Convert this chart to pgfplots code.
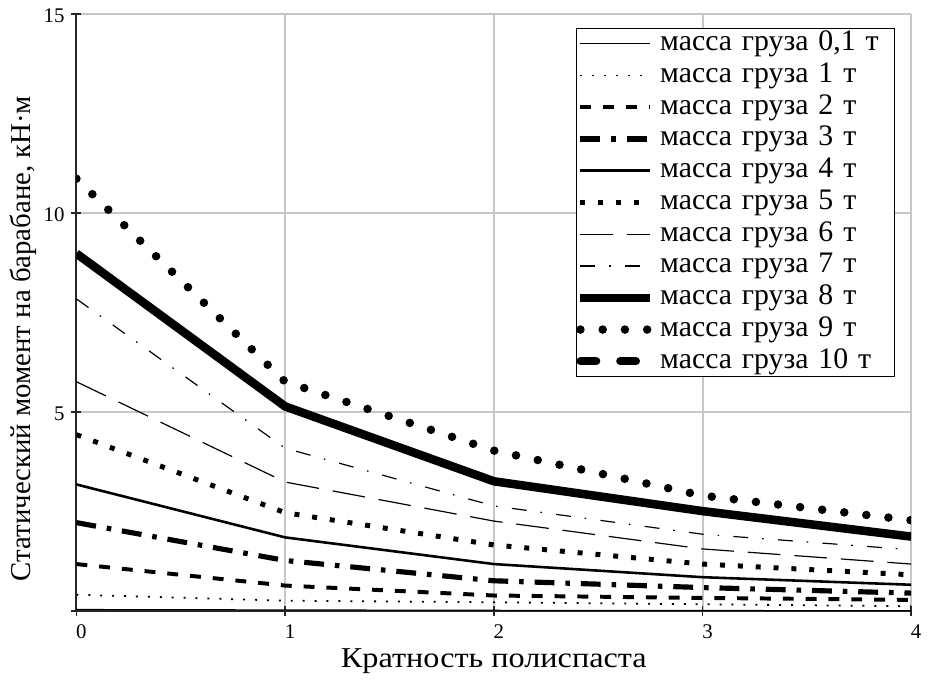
\documentclass[border=0pt]{standalone}
\usepackage{fontspec}
\setmainfont{Liberation Serif}
\usepackage{pgfplots}
\usepackage{pgfplotstable}
\pgfplotsset{compat=1.18}
\pgfplotstableread{
x   m01    m1    m2    m3    m4    m5    m6    m7    m8    m9
0   0.04   0.41  1.18  2.22  3.18  4.43  5.76  7.84  8.98  10.86
1   0.03   0.26  0.64  1.27  1.85  2.47  3.24  4.09  5.14  5.76
2   0.02   0.22  0.39  0.76  1.18  1.66  2.26  2.64  3.26  4.03
3   0.015  0.17  0.33  0.59  0.85  1.18  1.56  1.93  2.51  2.90
4   0.01   0.12  0.28  0.45  0.66  0.91  1.18  1.54  1.87  2.28
}\datatable
\begin{document}
\begin{tikzpicture}
\def\fs{\fontsize{14.5}{17}\selectfont}
\def\fl{\fontsize{15}{17}\selectfont}
\def\ft{\fontsize{10.5}{12}\selectfont}
\begin{axis}[
  scale only axis, width=420.5pt, height=300.8pt,
  xmin=0, xmax=4, ymin=0, ymax=15,
  xtick={0,1,2,3,4}, ytick={0,5,10,15},
  yticklabels={,5,10,15},
  grid=major, major grid style={line width=1pt, color=black!22},
  axis x line=bottom, axis y line=left,
  axis line style={line width=1pt, color=black!85, -},
  tick align=center, major tick length=5pt,
  tick style={line width=0.8pt, black!85},
  /pgf/number format/assume math mode=true,
  every tick label/.append style={font=\ft},
  xticklabel style={xshift=2.5pt, yshift=-1pt},
  yticklabel style={yshift=-1pt},
  xlabel={\scalebox{1.12}[1]{Кратность полиспаста}},
  ylabel={Статический момент на барабане, кН·м},
  label style={font=\fs},
  xlabel style={at={(axis description cs:0.5,-0.0948)}, anchor=base},
  ylabel style={at={(axis description cs:-0.064,0.4565)}, anchor=center},
  legend cell align=left,
  legend image code/.code={\draw[#1] (0pt,0pt) -- (35pt,0pt);},
  legend style={at={(axis description cs:0.9806,0.976)}, anchor=north east,
    draw=black, line width=0.6pt, fill=white, font=\fl,
    inner xsep=0pt, inner ysep=0.5pt, row sep=2pt, column sep=3pt,
    nodes={inner sep=0pt, anchor=west, text height=10.5pt, text depth=3.5pt, text width=118pt, align=left}},
]
\addplot[line width=0.5pt] table[x=x,y=m01]{\datatable};
\addlegendentry{масса груза 0,1 т}
\addplot[line width=0.9pt, dash pattern=on 1pt off 5pt] table[x=x,y=m1]{\datatable};
\addlegendentry{масса груза 1 т}
\addplot[line width=2pt, dash pattern=on 5.5pt off 6pt] table[x=x,y=m2]{\datatable};
\addlegendentry{масса груза 2 т}
\addplot[line width=2.6pt, dash pattern=on 10pt off 5.5pt on 2.3pt off 5.5pt] table[x=x,y=m3]{\datatable};
\addlegendentry{масса груза 3 т}
\addplot[line width=1.3pt] table[x=x,y=m4]{\datatable};
\addlegendentry{масса груза 4 т}
\addplot[line width=2.5pt, dash pattern=on 2.5pt off 6.5pt] table[x=x,y=m5]{\datatable};
\addlegendentry{масса груза 5 т}
\addplot[line width=0.6pt, dash pattern=on 16.5pt off 7pt] table[x=x,y=m6]{\datatable};
\addlegendentry{масса груза 6 т}
\addplot[line width=0.6pt, dash pattern=on 7.5pt off 7pt on 0.8pt off 7.2pt] table[x=x,y=m7]{\datatable};
\addlegendentry{масса груза 7 т}
\addplot[line width=4.3pt] table[x=x,y=m8]{\datatable};
\addlegendentry{масса груза 8 т}
\addplot[line width=4.3pt, line cap=round, dash pattern=on 0pt off 11.2pt] table[x=x,y=m9]{\datatable};
\addlegendentry{масса груза 9 т}
\addlegendimage{line width=4pt, line cap=round, dash pattern=on 8pt off 12pt}
\addlegendentry{масса груза 10 т}
\end{axis}
\path ([xshift=-38.5pt,yshift=-32.7pt]current axis.south west) rectangle ([xshift=5pt,yshift=7pt]current axis.north east);
\end{tikzpicture}
\end{document}
